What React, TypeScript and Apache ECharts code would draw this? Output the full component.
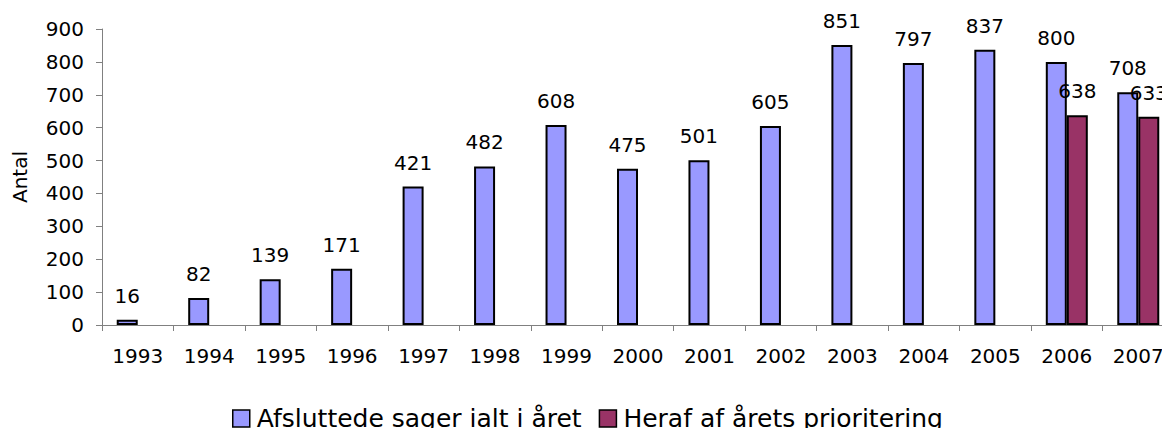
import React, { useEffect, useRef } from "react";
import * as echarts from "echarts";

const years = ["1993","1994","1995","1996","1997","1998","1999","2000","2001","2002","2003","2004","2005","2006","2007"];
const totalCases = [16, 82, 139, 171, 421, 482, 608, 475, 501, 605, 851, 797, 837, 800, 708];
const priorityCases = [null, null, null, null, null, null, null, null, null, null, null, null, null, 638, 633];
const yTicks = { min: 0, max: 900, interval: 100 };
const seriesNames = ["Afsluttede sager ialt i året", "Heraf af årets prioritering"];

export default function App() {
  const ref = useRef<HTMLDivElement>(null);
  useEffect(() => {
    document.body.style.margin = "0";
    const chart = echarts.init(ref.current!, null, { renderer: "svg" });
    const font = "DejaVu Sans, Verdana, sans-serif";
    chart.setOption({
      animation: false,
      textStyle: { fontFamily: font },
      grid: { left: 102, top: 29, right: -12, height: 296, outerBoundsMode: "none", containLabel: false },
      legend: {
        left: 227,
        top: 401,
        itemGap: 17,
        itemWidth: 17,
        itemHeight: 17,
        icon: "rect",
        itemStyle: { borderColor: "#000", borderWidth: 1.5 },
        textStyle: { fontSize: 25, color: "#000", fontFamily: font, padding: [0, 0, 0, 2] },
        data: seriesNames,
      },
      xAxis: {
        type: "category",
        data: years,
        axisLine: { lineStyle: { color: "#808080", width: 1 } },
        axisTick: { show: true, length: 6, lineStyle: { color: "#808080" } },
        axisLabel: { color: "#000", fontSize: 20, margin: 21, fontFamily: font },
      },
      yAxis: {
        type: "value",
        ...yTicks,
        name: "Antal",
        nameLocation: "middle",
        nameGap: 72,
        nameTextStyle: { fontSize: 20, color: "#000", fontFamily: font },
        axisLine: { show: true, lineStyle: { color: "#808080", width: 1 } },
        axisTick: { show: true, length: 6, lineStyle: { color: "#808080" } },
        splitLine: { show: false },
        axisLabel: { color: "#000", fontSize: 20, margin: 18, fontFamily: font },
      },
      series: [
        {
          name: seriesNames[0],
          type: "bar",
          data: totalCases,
          barWidth: 21,
          barGap: "0%",
          itemStyle: { color: "#9999FF", borderColor: "#000", borderWidth: 2 },
          label: { show: true, position: "top", distance: 14, color: "#000", fontSize: 20, fontFamily: font },
        },
        {
          name: seriesNames[1],
          type: "bar",
          data: priorityCases,
          barWidth: 21,
          barGap: "0%",
          itemStyle: { color: "#993366", borderColor: "#000", borderWidth: 2 },
          label: { show: true, position: "top", distance: 14, color: "#000", fontSize: 20, fontFamily: font },
        },
      ],
    });
    return () => chart.dispose();
  }, []);
  return <div ref={ref} style={{ width: 1162, height: 428 }} />;
}
